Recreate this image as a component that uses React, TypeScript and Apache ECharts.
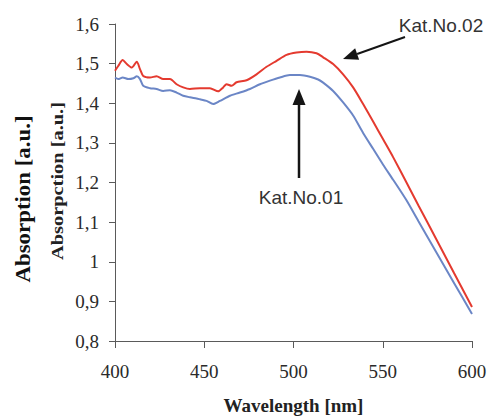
import React, { useEffect, useRef } from "react";
import * as echarts from "echarts";

// Wavelength [nm] / Absorption [a.u.]
const redWavelength = [400, 401.8, 404.3, 406.6, 409.4, 412.2, 414, 415.8, 419.6, 423.3, 427, 430.8, 434.5, 438.2, 442, 447.6, 453.2, 457.8, 460.6, 462.5, 465.3, 468.1, 473.7, 479.3, 484.9, 490.5, 496.1, 501.7, 507.3, 512.9, 516.6, 522.2, 527.8, 533.4, 539, 544.6, 550.2, 555.8, 563.3, 570, 580, 590, 600];
const redAbsorption = [1.482, 1.494, 1.509, 1.499, 1.49, 1.505, 1.486, 1.469, 1.465, 1.468, 1.461, 1.461, 1.448, 1.44, 1.436, 1.438, 1.438, 1.43, 1.44, 1.448, 1.444, 1.453, 1.458, 1.473, 1.492, 1.507, 1.522, 1.528, 1.53, 1.526, 1.516, 1.499, 1.473, 1.44, 1.398, 1.354, 1.309, 1.264, 1.2, 1.142, 1.057, 0.971, 0.886];

const blueWavelength = [400, 401.8, 404.3, 407.5, 410.3, 412.2, 414, 415.8, 419.6, 423.3, 427, 430.8, 434.5, 438.2, 442, 445.7, 447.6, 451.3, 455, 458.8, 464.4, 470, 475.6, 481.2, 486.8, 492.4, 498, 503.6, 509.2, 513.8, 516.6, 522.2, 527.8, 533.4, 539, 544.6, 550.2, 555.8, 563.3, 570, 580, 590, 600];
const blueAbsorption = [1.465, 1.461, 1.465, 1.461, 1.463, 1.468, 1.461, 1.444, 1.438, 1.436, 1.431, 1.433, 1.427, 1.419, 1.415, 1.412, 1.41, 1.406, 1.398, 1.406, 1.419, 1.427, 1.436, 1.448, 1.457, 1.465, 1.471, 1.471, 1.467, 1.46, 1.452, 1.431, 1.402, 1.369, 1.325, 1.285, 1.245, 1.207, 1.155, 1.102, 1.024, 0.946, 0.868];

const seriesNames = ["Kat.No.02", "Kat.No.01"];
const xAxisTitle = "Wavelength [nm]";
const yAxisTitleOuter = "Absorption [a.u.]";
const yAxisTitleInner = "Absorpction [a.u.]";

const toPairs = (xs: number[], ys: number[]) => xs.map((x, i) => [x, ys[i]]);

export default function App() {
  const ref = useRef<HTMLDivElement>(null);

  useEffect(() => {
    if (!ref.current) return;
    const chart = echarts.init(ref.current, undefined, { renderer: "svg" });
    const serif = "'Liberation Serif', 'Times New Roman', serif";
    const sans = "'Liberation Sans', Arial, sans-serif";
    const axisColor = "#5a5a5a";
    const arrowColor = "#151515";

    // arrow for Kat.No.02
    const t2 = [343, 59];
    const tail2 = [405, 37];
    const dx = t2[0] - tail2[0];
    const dy = t2[1] - tail2[1];
    const len = Math.hypot(dx, dy);
    const ux = dx / len;
    const uy = dy / len;
    const hl = 15;
    const hw = 6;
    const b2 = [t2[0] - hl * ux, t2[1] - hl * uy];
    const nx = -uy;
    const ny = ux;

    chart.setOption({
      animation: false,
      backgroundColor: "#ffffff",
      grid: { left: 115, right: 18, top: 24, bottom: 76, outerBoundsMode: "none" },
      xAxis: {
        type: "value",
        min: 400,
        max: 600,
        interval: 50,
        name: xAxisTitle,
        nameLocation: "middle",
        nameGap: 55,
        nameTextStyle: { fontFamily: serif, fontSize: 19, fontWeight: "bold", color: "#222" },
        axisLine: { show: true, onZero: false, lineStyle: { color: axisColor, width: 1 } },
        axisTick: { show: true, length: 7, lineStyle: { color: axisColor } },
        axisLabel: { fontFamily: serif, fontSize: 19, color: "#2a2a2a", margin: 21 },
        splitLine: { show: false },
      },
      yAxis: {
        type: "value",
        min: 0.8,
        max: 1.6,
        interval: 0.1,
        axisLine: { show: true, onZero: false, lineStyle: { color: axisColor, width: 1 } },
        axisTick: { show: true, length: 6, lineStyle: { color: axisColor } },
        axisLabel: {
          fontFamily: serif,
          fontSize: 19,
          color: "#2a2a2a",
          margin: 16,
          formatter: (v: number) => {
            const r = Math.round(v * 10) / 10;
            return Number.isInteger(r) ? String(r) : r.toFixed(1).replace(".", ",");
          },
        },
        splitLine: { show: false },
      },
      series: [
        {
          name: seriesNames[0],
          type: "line",
          data: toPairs(redWavelength, redAbsorption),
          showSymbol: false,
          symbol: "none",
          smooth: 0.25,
          lineStyle: { color: "#e43a2f", width: 2 },
          z: 3,
        },
        {
          name: seriesNames[1],
          type: "line",
          data: toPairs(blueWavelength, blueAbsorption),
          showSymbol: false,
          symbol: "none",
          smooth: 0.25,
          lineStyle: { color: "#6b86c6", width: 2 },
          z: 2,
        },
      ],
      graphic: [
        {
          type: "text",
          x: 22.5,
          y: 199,
          rotation: Math.PI / 2,
          scaleX: 1.09,
          style: {
            text: yAxisTitleOuter,
            fontFamily: serif,
            fontSize: 21,
            fontWeight: "bold",
            fill: "#111",
            align: "center",
            verticalAlign: "middle",
          },
        },
        {
          type: "text",
          x: 57,
          y: 181,
          rotation: Math.PI / 2,
          scaleX: 1.2,
          style: {
            text: yAxisTitleInner,
            fontFamily: serif,
            fontSize: 17,
            fontWeight: "bold",
            fill: "#222",
            align: "center",
            verticalAlign: "middle",
          },
        },
        {
          type: "text",
          x: 441,
          y: 25,
          style: {
            text: seriesNames[0],
            fontFamily: sans,
            fontSize: 19,
            fill: "#333",
            align: "center",
            verticalAlign: "middle",
          },
        },
        {
          type: "text",
          x: 301,
          y: 197,
          style: {
            text: seriesNames[1],
            fontFamily: sans,
            fontSize: 19,
            fill: "#333",
            align: "center",
            verticalAlign: "middle",
          },
        },
        {
          type: "line",
          shape: { x1: tail2[0], y1: tail2[1], x2: b2[0], y2: b2[1] },
          style: { stroke: arrowColor, lineWidth: 2 },
        },
        {
          type: "polygon",
          shape: {
            points: [
              [t2[0], t2[1]],
              [b2[0] + hw * nx, b2[1] + hw * ny],
              [b2[0] - hw * nx, b2[1] - hw * ny],
            ],
          },
          style: { fill: arrowColor },
        },
        {
          type: "line",
          shape: { x1: 299, y1: 178, x2: 299, y2: 103 },
          style: { stroke: arrowColor, lineWidth: 2.5 },
        },
        {
          type: "polygon",
          shape: { points: [[299, 89], [292.5, 105], [305.5, 105]] },
          style: { fill: arrowColor },
        },
      ],
    });

    return () => chart.dispose();
  }, []);

  return (
    <div
      ref={ref}
      style={{ position: "absolute", left: 0, top: 0, width: 490, height: 417 }}
    />
  );
}
